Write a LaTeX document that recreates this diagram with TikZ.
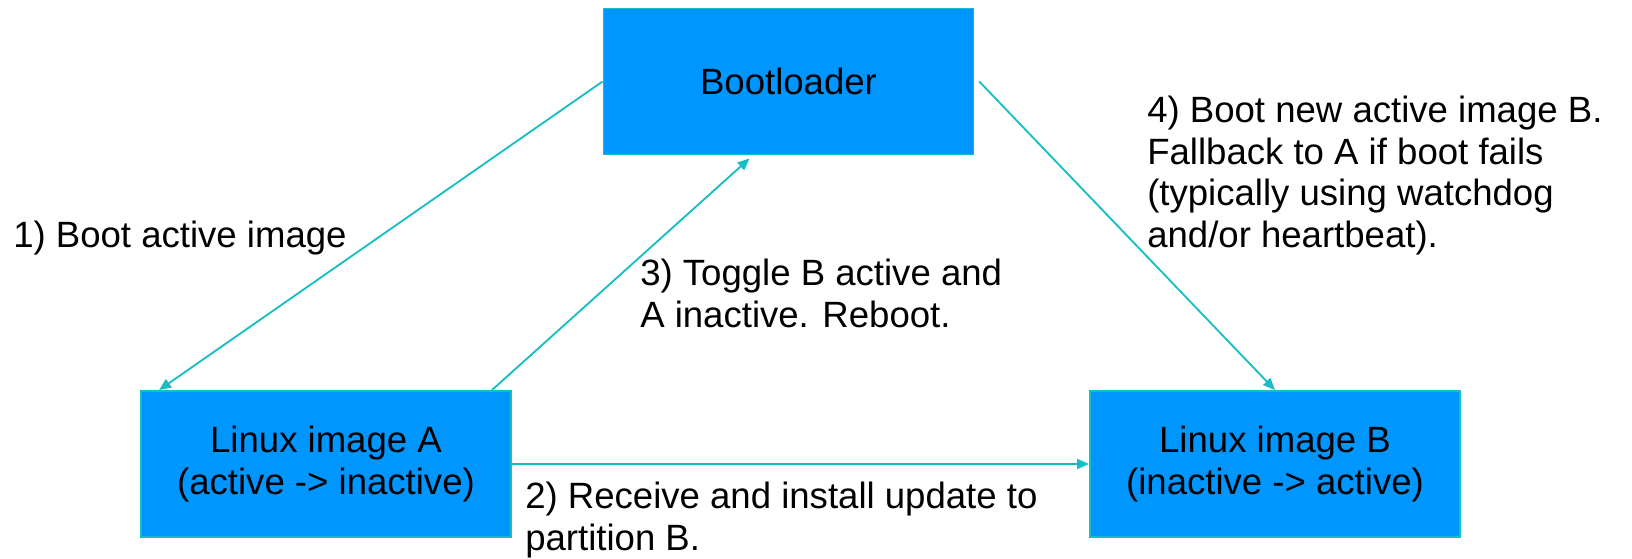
\documentclass[tikz,border=0pt]{standalone}
\usepackage{fontspec}
\setmainfont{Liberation Sans}
\usetikzlibrary{arrows.meta}
\definecolor{boxblue}{RGB}{0,150,255}
\definecolor{linkteal}{RGB}{20,190,195}

\begin{document}
\begin{tikzpicture}[x=0.025cm, y=-0.025cm, >={Triangle[length=0.3cm,width=0.25cm]},
  font=\fontsize{26}{29.5}\selectfont,
  box/.style={draw=linkteal, line width=1.3pt, fill=boxblue, align=center,
    minimum width=9.25cm, minimum height=3.65cm, inner sep=0pt},
  link/.style={->, draw=linkteal, line width=1.3pt},
  lbl/.style={anchor=base west, align=left, inner sep=0pt}]
\useasboundingbox (0,0) rectangle (1632,559);
\node [box] (boot) at (788.5,81.5) {Bootloader};
\node [box] (imga) at (326,464) {Linux image A\\(active -> inactive)};
\node [box] (imgb) at (1275,464) {Linux image B\\(inactive -> active)};
\draw [link] (boot.west) -- ([xshift=0.475cm]imga.north west);
\draw [link] (imga.east) -- (imgb.west);
\draw [link] ([xshift=-0.5cm]imga.north east) -- ([xshift=3.675cm,yshift=-0.075cm]boot.south west);
\draw [link] ([xshift=0.12cm]boot.east) -- (imgb.north);
\node [lbl] (t1) at (13,247) {1) Boot active image};
\node [lbl] (t2) at (525,550) {2) Receive and install update to\\partition B.};
\node [lbl] (t3) at (640,327) {3) Toggle B active and\\A inactive. Reboot.};
\node [lbl] (t4) at (1147,247) {4) Boot new active image B.\\Fallback to A if boot fails\\(typically using watchdog\\and/or heartbeat).};
\end{tikzpicture}
\end{document}
